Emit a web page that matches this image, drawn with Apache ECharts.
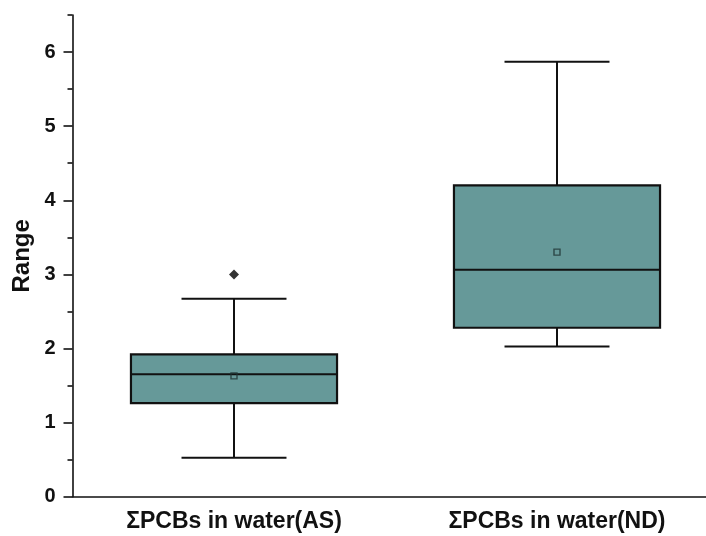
<!DOCTYPE html>
<html>
<head>
<meta charset="utf-8">
<script src="https://cdn.jsdelivr.net/npm/echarts@6/dist/echarts.min.js"></script>
<style>html,body{margin:0;padding:0;background:#fff}#c{width:706px;height:536px}</style>
</head>
<body>
<div id="c"></div>
<script>
const categories = ['ΣPCBs in water(AS)', 'ΣPCBs in water(ND)'];
const whiskerLow = [0.527, 2.027];
const q1 = [1.262, 2.28];
const median = [1.654, 3.064];
const q3 = [1.92, 4.20];
const whiskerHigh = [2.67, 5.87];
const means = [1.63, 3.30];
const outliers = [[0, 3.0]];
const yMajorTicks = [0, 1, 2, 3, 4, 5, 6];
const yMinorTicks = [0.5, 1.5, 2.5, 3.5, 4.5, 5.5, 6.5];

const boxData = categories.map((c, i) => [i, whiskerLow[i], q1[i], median[i], q3[i], whiskerHigh[i]]);
const meanData = categories.map((c, i) => [i, means[i]]);

const FONT = '"Liberation Sans", Arial, sans-serif';
const INK = '#111';

const chart = echarts.init(document.getElementById('c'));
chart.setOption({
  animation: false,
  backgroundColor: '#fff',
  grid: { left: 72.5, right: -12.5, top: 15, bottom: 39.3, containLabel: false, outerBoundsMode: 'none' },
  xAxis: {
    type: 'category',
    data: categories,
    boundaryGap: true,
    axisLine: { lineStyle: { color: INK, width: 1.6 } },
    axisTick: { alignWithLabel: true, length: 7, lineStyle: { color: INK, width: 1.6 } },
    axisLabel: { color: INK, fontFamily: FONT, fontWeight: 'bold', fontSize: 23, margin: 13 },
    splitLine: { show: false }
  },
  yAxis: [
    {
      type: 'value', min: 0, max: 6.5,
      name: 'Range', nameLocation: 'middle', nameGap: 38,
      nameTextStyle: { color: INK, fontFamily: FONT, fontWeight: 'bold', fontSize: 24 },
      axisLine: { show: true, lineStyle: { color: INK, width: 1.6 } },
      axisTick: { show: true, length: 5, customValues: yMinorTicks, lineStyle: { color: INK, width: 1.6 } },
      axisLabel: { show: false },
      splitLine: { show: false }
    },
    {
      type: 'value', min: 0, max: 6.5, position: 'left', offset: 0,
      axisLine: { show: false },
      axisTick: { show: true, length: 9, customValues: yMajorTicks, lineStyle: { color: INK, width: 1.6 } },
      axisLabel: { show: true, customValues: yMajorTicks, color: INK, fontFamily: FONT, fontWeight: 'bold', fontSize: 20, margin: 17 },
      splitLine: { show: false }
    }
  ],
  series: [
    {
      type: 'custom',
      xAxisIndex: 0, yAxisIndex: 0,
      data: boxData,
      encode: { x: 0, y: [1, 2, 3, 4, 5] },
      renderItem: function (params, api) {
        const x = api.value(0);
        const pLo = api.coord([x, api.value(1)]);
        const pQ1 = api.coord([x, api.value(2)]);
        const pMed = api.coord([x, api.value(3)]);
        const pQ3 = api.coord([x, api.value(4)]);
        const pHi = api.coord([x, api.value(5)]);
        const band = api.size([1, 0])[0];
        const bw = band * 0.638;
        const cw = band * 0.325;
        const cx = pMed[0];
        const lineStyle = { stroke: INK, lineWidth: 2, fill: null };
        return {
          type: 'group',
          children: [
            { type: 'line', shape: { x1: cx, y1: pQ3[1], x2: cx, y2: pHi[1] }, style: lineStyle },
            { type: 'line', shape: { x1: cx, y1: pQ1[1], x2: cx, y2: pLo[1] }, style: lineStyle },
            { type: 'line', shape: { x1: cx - cw / 2, y1: pHi[1], x2: cx + cw / 2, y2: pHi[1] }, style: lineStyle },
            { type: 'line', shape: { x1: cx - cw / 2, y1: pLo[1], x2: cx + cw / 2, y2: pLo[1] }, style: lineStyle },
            { type: 'rect', shape: { x: cx - bw / 2, y: pQ3[1], width: bw, height: pQ1[1] - pQ3[1] },
              style: { fill: '#669999', stroke: INK, lineWidth: 2.2 } },
            { type: 'line', shape: { x1: cx - bw / 2, y1: pMed[1], x2: cx + bw / 2, y2: pMed[1] }, style: lineStyle }
          ]
        };
      },
      z: 2
    },
    {
      type: 'scatter',
      data: meanData,
      symbol: 'rect',
      symbolSize: 6,
      itemStyle: { color: 'rgba(0,0,0,0)', borderColor: '#1e3333', borderWidth: 1.4 },
      z: 5
    },
    {
      type: 'scatter',
      data: outliers,
      symbol: 'diamond',
      symbolSize: 10,
      itemStyle: { color: '#000' },
      z: 5
    }
  ]
});
</script>
</body>
</html>
